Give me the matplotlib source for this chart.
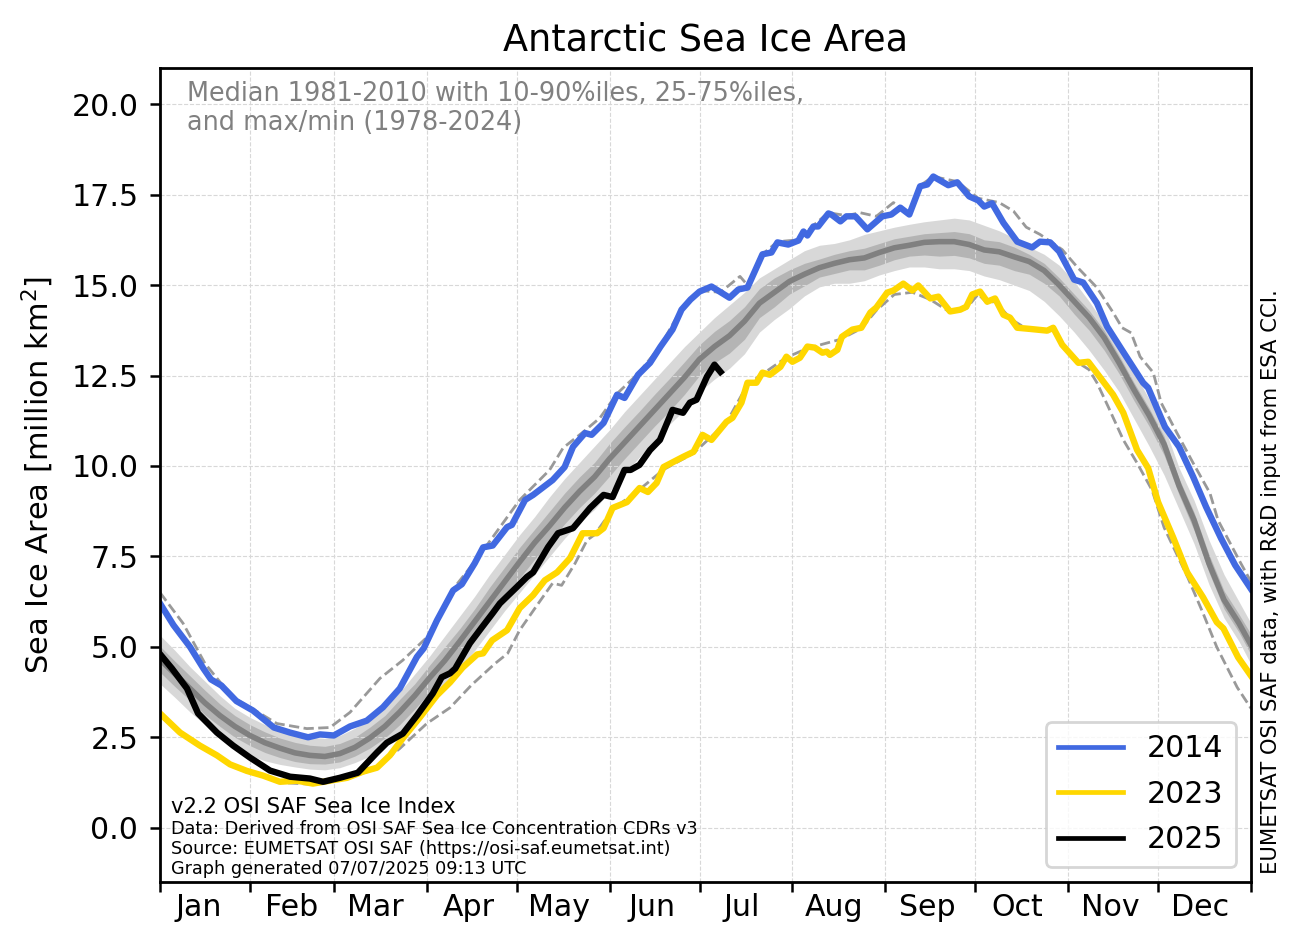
import matplotlib
matplotlib.use("Agg")
import matplotlib.pyplot as plt

month_starts = [0, 30, 58, 89, 119, 150, 180, 211, 242, 272, 303, 333, 364]
month_mid = [13, 44, 72, 103, 133, 164, 194, 225, 256, 286, 317, 347]
month_names = ["Jan", "Feb", "Mar", "Apr", "May", "Jun", "Jul", "Aug", "Sep", "Oct", "Nov", "Dec"]
y_ticks = [0, 2.5, 5, 7.5, 10, 12.5, 15, 17.5, 20]

band_days = [0,5,10,15,20,25,30,35,40,45,50,55,60,65,70,75,80,85,90,95,100,105,110,115,120,125,130,135,140,145,
             150,155,160,165,170,175,180,185,190,195,200,205,210,215,220,225,230,235,240,245,250,255,260,265,270,
             275,280,285,290,295,300,305,310,315,320,325,330,335,340,345,350,355,360,364]
median = [4.65,4.25,3.85,3.45,3.1,2.8,2.55,2.35,2.2,2.07,2.0,1.97,2.05,2.22,2.48,2.8,3.2,3.65,4.15,4.62,5.15,5.7,6.25,6.8,7.35,7.88,8.35,8.85,9.3,9.7,
          10.2,10.65,11.1,11.55,12.0,12.45,12.95,13.3,13.6,14.0,14.5,14.8,15.1,15.3,15.48,15.6,15.7,15.75,15.9,16.03,16.1,16.18,16.2,16.2,16.12,
          15.97,15.92,15.78,15.65,15.4,15.0,14.55,14.1,13.55,12.85,12.1,11.4,10.6,9.45,8.5,7.3,6.3,5.65,5.05]
p90 = [5.32,4.9,4.45,4.05,3.65,3.3,3.05,2.85,2.7,2.58,2.5,2.47,2.55,2.75,3.0,3.35,3.75,4.25,4.75,5.3,5.85,6.4,7.0,7.55,8.1,8.6,9.15,9.65,10.1,10.55,
       11.0,11.5,11.95,12.4,12.85,13.3,13.7,14.1,14.45,14.8,15.2,15.45,15.7,15.95,16.1,16.15,16.25,16.4,16.5,16.6,16.68,16.75,16.8,16.85,16.8,
       16.65,16.5,16.3,16.05,15.85,15.55,15.1,14.55,13.95,13.3,12.6,11.85,11.1,9.95,9.05,7.95,7.0,6.25,5.65]
p75 = [5.02,4.6,4.2,3.8,3.42,3.1,2.85,2.65,2.48,2.36,2.28,2.25,2.33,2.5,2.78,3.1,3.55,3.98,4.5,5.0,5.5,6.05,6.65,7.2,7.75,8.25,8.75,9.25,9.7,10.1,
       10.62,11.08,11.52,11.98,12.42,12.88,13.35,13.72,14.02,14.4,14.9,15.2,15.42,15.6,15.72,15.85,15.95,16.02,16.15,16.28,16.35,16.42,16.45,16.48,16.42,
       16.25,16.2,16.05,15.85,15.6,15.2,14.75,14.3,13.75,13.05,12.3,11.6,10.82,9.65,8.72,7.55,6.55,5.9,5.35]
p25 = [4.3,3.9,3.52,3.12,2.8,2.5,2.27,2.08,1.94,1.83,1.77,1.76,1.82,1.98,2.2,2.48,2.85,3.28,3.75,4.22,4.72,5.25,5.8,6.35,6.9,7.42,7.9,8.4,8.85,9.25,
       9.72,10.2,10.65,11.1,11.52,11.98,12.5,12.85,13.12,13.5,14.1,14.4,14.75,14.98,15.22,15.32,15.42,15.42,15.55,15.7,15.8,15.83,15.8,15.82,15.75,
       15.6,15.55,15.4,15.3,15.05,14.7,14.2,13.75,13.2,12.55,11.8,11.1,10.3,9.2,8.22,7.05,6.05,5.4,4.78]
p10 = [3.98,3.6,3.2,2.85,2.5,2.25,2.0,1.85,1.75,1.68,1.62,1.6,1.66,1.8,1.98,2.25,2.6,3.0,3.45,3.9,4.4,4.9,5.45,6.0,6.5,7.0,7.5,8.0,8.45,8.8,
       9.3,9.78,10.25,10.7,11.15,11.55,12.05,12.4,12.7,13.1,13.7,14.05,14.35,14.7,14.95,15.05,15.05,15.12,15.28,15.4,15.5,15.5,15.45,15.45,15.4,
       15.25,15.15,15.0,14.85,14.55,14.15,13.7,13.2,12.65,12.05,11.3,10.55,9.75,8.8,7.85,6.72,5.8,5.15,4.52]

days_2014 = [0,4.5,10,14.5,17,20.5,25.5,31,38,43.4,49.4,53.4,58,63.4,69,74.4,80,85.7,88,92.4,97.8,100.7,105,107.8,111,115.8,117.4,121.8,124.5,131,
             135,137.8,141.8,144,148,152.5,155,159.5,163.5,167,171,174,177,180,184,190,193,196,201,204,206,209.6,213,214.7,216,218,219.6,223,224,227,
             229,232,236,241,244,247,250,253.6,256,258,263,266,270,273,275,277.6,281.4,286,291,293.6,297,300,305,308,312.6,316,321,328,329.7,335.3,340,
             344.7,349,354,358.7,364]
vals_2014 = [6.2,5.6,5.0,4.4,4.1,3.93,3.5,3.24,2.77,2.63,2.5,2.58,2.55,2.8,2.96,3.33,3.85,4.72,4.96,5.73,6.56,6.73,7.31,7.75,7.8,8.31,8.37,9.06,9.2,9.61,
             9.97,10.53,10.91,10.86,11.19,11.97,11.88,12.52,12.85,13.3,13.77,14.32,14.6,14.82,14.96,14.65,14.88,14.93,15.85,15.9,16.18,16.12,16.23,16.48,16.37,16.62,16.62,16.98,16.95,16.76,
             16.9,16.9,16.54,16.9,16.95,17.14,16.95,17.73,17.78,18.0,17.76,17.84,17.45,17.34,17.17,17.26,16.72,16.2,16.04,16.2,16.18,15.93,15.15,15.07,14.5,13.85,13.2,12.3,12.16,11.08,10.53,
             9.7,8.87,8.0,7.26,6.6]

days_2023 = [0,6.7,13.3,19,23.4,29,34.4,40,45.7,51,56.7,62.4,67.7,72.4,76.7,81,86.7,92.4,96.8,101,105.8,107.8,110.8,115.8,120,124.5,128.4,132.5,136.8,141,
             145.8,148,151,155.8,160,162.8,165.7,168,174.5,178,181,184,189,191,194,196,199,201,203.5,207,209,211,213.5,216,218.5,221,222.5,223.5,226,227.5,
             231,234,237,239,242.6,244.7,248,251,253,257,259.7,263.6,267,269,271,273.6,276,278.6,281.4,283.6,286,290,296,298,301,306.4,309.7,313,318,321.4,
             326,329.7,333,338,342.7,348,352.6,354.8,359.7,364]
vals_2023 = [3.16,2.63,2.27,2.0,1.75,1.57,1.44,1.27,1.3,1.22,1.3,1.38,1.55,1.66,2.0,2.47,3.05,3.66,4.02,4.43,4.79,4.82,5.18,5.46,6.07,6.43,6.84,7.06,7.45,8.14,
             8.14,8.28,8.84,9.0,9.39,9.28,9.53,9.97,10.25,10.39,10.86,10.72,11.22,11.33,11.75,12.3,12.3,12.58,12.52,12.74,13.02,12.88,12.99,13.3,13.27,13.13,13.16,13.07,13.21,13.57,
             13.77,13.82,14.24,14.38,14.79,14.85,15.04,14.85,14.99,14.63,14.68,14.27,14.32,14.4,14.74,14.82,14.54,14.63,14.18,14.1,13.82,13.79,13.74,13.82,13.35,12.85,12.88,12.52,11.97,11.47,
             10.44,9.94,9.0,8.03,7.06,6.37,5.68,5.51,4.71,4.2]

days_2025 = [0,4,9,12.7,19,24.4,30,36.7,43.4,50,54.4,60,66,72.4,75.7,81,85.7,91,94,96.8,98.5,103.4,107.4,111,113.4,119,122.4,124.5,129.5,132.8,
             137.8,143.5,148,151,155,157,160,163.5,166.8,171,174.5,176.8,179,182.5,185,187]
vals_2025 = [4.8,4.4,3.85,3.16,2.63,2.27,1.94,1.58,1.41,1.36,1.27,1.38,1.52,2.08,2.35,2.6,3.1,3.71,4.16,4.27,4.4,5.1,5.54,5.93,6.2,6.65,6.93,7.06,7.76,8.14,
             8.28,8.84,9.2,9.14,9.89,9.89,10.03,10.44,10.72,11.55,11.47,11.75,11.83,12.47,12.8,12.6]

days_max = [0,7.7,15,20.5,25.5,31,39,49,56.7,63.4,73.4,81,89,92.4,97.8,105,111,120,130,134.5,141.8,146.8,152.5,159.5,167,174,180,187,193.5,196,
            201,206,213,218,223,229,233.6,239,244.7,250,253.6,258,266,273,280,284.8,289,293.6,301,306,312.6,318,321,324,327,331.4,334,339.3,344.7,350.3,353,360.4,364]
vals_max = [6.5,5.65,4.54,3.98,3.55,3.28,2.88,2.74,2.77,3.19,4.13,4.63,5.26,5.75,6.6,7.35,8.03,9.06,9.89,10.5,10.98,11.33,12.0,12.55,13.32,14.35,14.85,14.8,15.24,15.0,
            15.85,16.2,16.25,16.65,17.0,16.92,17.0,16.9,17.28,17.0,17.75,18.0,17.86,17.4,17.28,17.04,16.6,16.4,15.98,15.5,14.93,14.24,13.82,13.68,13.02,12.58,11.75,10.91,10.08,9.25,8.5,7.34,6.8]

days_min = [0,6.7,13.3,19,23.4,29,34.4,40,51,62.4,72.4,76.7,80,89,96.8,104,111.8,116,120,125.8,131,134,138.5,142.5,145,151,160,168,178,189,196,209,216,227,234,239,245,
            251,257,263.6,269,273,276,278.6,284,290,298,301,306.4,310,312.6,316.4,321.4,326,331,335,339,343,348,352.6,359.4,364]
vals_min = [3.1,2.6,2.24,1.97,1.72,1.54,1.41,1.25,1.2,1.36,1.64,1.97,2.19,2.88,3.32,3.95,4.54,4.82,5.46,6.15,6.76,6.7,7.31,7.95,8.1,8.8,9.35,9.9,10.35,11.2,12.25,13.0,13.25,13.5,13.8,14.3,14.74,
            14.8,14.6,14.25,14.35,14.75,14.5,14.55,14.05,13.75,13.75,13.3,12.85,12.66,12.3,11.63,10.72,10.08,9.33,8.3,7.6,6.9,5.93,4.99,3.88,3.3]

fig = plt.figure(figsize=(6.515, 4.715), dpi=200)
ax = fig.add_axes([160/1303, 1-882/943, (1251-160)/1303, (882-68)/943])
for side in ax.spines.values():
    side.set_linewidth(1.0)

ax.fill_between(band_days, p10, p90, color="#808080", alpha=0.3, lw=0)
ax.fill_between(band_days, p25, p75, color="#808080", alpha=0.4, lw=0)
ax.plot(band_days, median, color="#808080", lw=2)
ax.plot(days_max, vals_max, color="#999999", lw=1, ls="--")
ax.plot(days_min, vals_min, color="#999999", lw=1, ls="--")
line_style = dict(lw=2.3, solid_joinstyle="round")
ax.plot(days_2014, vals_2014, color="royalblue", label="2014", **line_style)
ax.plot(days_2023, vals_2023, color="gold", label="2023", **line_style)
ax.plot(days_2025, vals_2025, color="black", label="2025", **line_style)

ax.set_xlim(0, 364)
ax.set_ylim(-1.5, 21)
ax.set_xticks(month_starts)
ax.set_xticklabels([])
ax.set_xticks(month_mid, minor=True)
ax.set_xticklabels(month_names, minor=True, fontsize=10.8)
ax.tick_params(axis="x", which="minor", length=0, pad=4.0)
ax.tick_params(axis="both", which="major", width=0.9)
ax.tick_params(axis="y", which="major", pad=4.3)
ax.set_yticks(y_ticks)
ax.set_yticklabels(["%.1f" % v for v in y_ticks], fontsize=10.8)
ax.grid(True, which="major", ls="--", lw=0.4, color="#d8d8d8")
ax.set_ylabel("Sea Ice Area [million km$^2$]", fontsize=11, labelpad=5.5)
ax.set_title("Antarctic Sea Ice Area", fontsize=13.2, pad=6.2)

ax.text(0.025, 0.984, "Median 1981-2010 with 10-90%iles, 25-75%iles,\nand max/min (1978-2024)",
        transform=ax.transAxes, color="gray", fontsize=9.2, va="top", ha="left", linespacing=1.16)
ax.text(0.0105, 0.080, "v2.2 OSI SAF Sea Ice Index", transform=ax.transAxes, fontsize=7.6, va="bottom")
ax.text(0.0105, 0.0055,
        "Data: Derived from OSI SAF Sea Ice Concentration CDRs v3\n"
        "Source: EUMETSAT OSI SAF (https://osi-saf.eumetsat.int)\n"
        "Graph generated 07/07/2025 09:13 UTC",
        transform=ax.transAxes, fontsize=6.37, va="bottom", linespacing=1.14)
ax.text(1.018, 0.01, "EUMETSAT OSI SAF data, with R&D input from ESA CCI.",
        transform=ax.transAxes, rotation=90, fontsize=7.6, va="bottom", ha="center")

leg = ax.legend(loc="lower right", fontsize=10.8, handlelength=2.15, labelspacing=0.55, borderpad=0.42)
for handle in leg.get_lines():
    handle.set_linewidth(1.7)
fig.savefig("out.png", dpi=200)
